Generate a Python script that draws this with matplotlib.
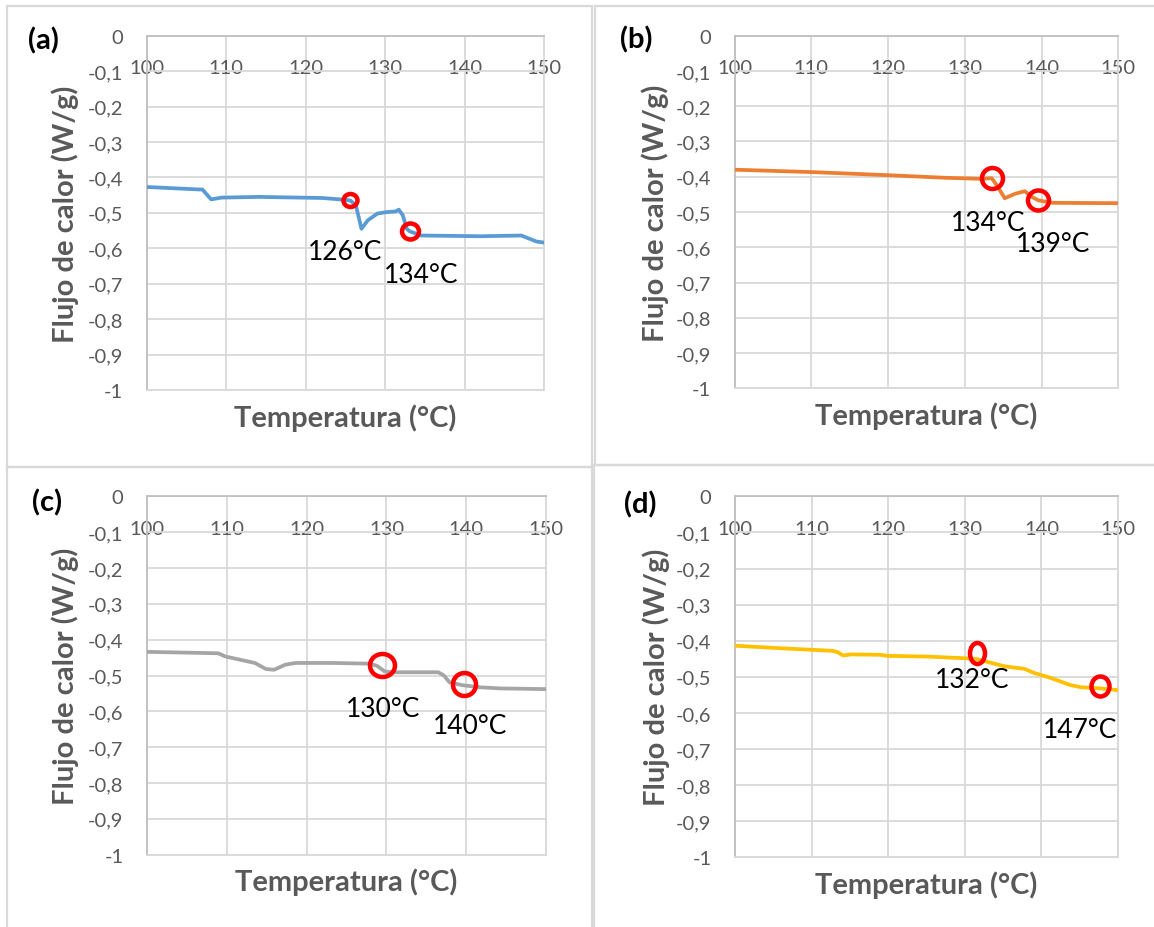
import matplotlib
matplotlib.use('Agg')
import matplotlib.pyplot as plt
from matplotlib.patches import Rectangle
from matplotlib.path import Path
from matplotlib.transforms import Affine2D

plt.rcParams['font.family'] = ['Lato', 'DejaVu Sans']

# ---------------- data ----------------
x_ticks = [100, 110, 120, 130, 140, 150]
y_ticks = [0, -0.1, -0.2, -0.3, -0.4, -0.5, -0.6, -0.7, -0.8, -0.9, -1]
y_tick_labels = ['0', '-0,1', '-0,2', '-0,3', '-0,4', '-0,5', '-0,6', '-0,7', '-0,8', '-0,9', '-1']
x_title = 'Temperatura (°C)'
y_title = 'Flujo de calor (W/g)'
panel_labels = ['(a)', '(b)', '(c)', '(d)']

temp_a = [100, 106.6, 107.0, 108.1, 109.4, 114.1, 122.0, 124.3, 125.6, 126.3, 127.0, 127.8,
          129.0, 130.1, 131.3, 131.7, 132.2, 132.7, 133.05, 134.5, 142.0, 147.1, 149.0, 150]
flux_a = [-0.427, -0.434, -0.434, -0.462, -0.457, -0.455, -0.458, -0.462, -0.465, -0.479, -0.545, -0.521,
          -0.502, -0.498, -0.496, -0.491, -0.507, -0.545, -0.552, -0.564, -0.566, -0.564, -0.581, -0.584]

temp_b = [100, 110.3, 120.4, 127.5, 132.3, 133.5, 134.2, 135.2, 136.6, 137.8, 138.8, 139.6, 141.4, 150]
flux_b = [-0.380, -0.387, -0.396, -0.403, -0.406, -0.404, -0.425, -0.461, -0.448, -0.441, -0.458, -0.467, -0.474, -0.475]

temp_c = [100, 108.9, 109.8, 113.5, 114.9, 115.9, 117.3, 118.6, 123.3, 127.9, 128.8, 129.8, 130.7,
          136.5, 137.2, 137.9, 139.5, 141.8, 144.2, 150]
flux_c = [-0.434, -0.438, -0.447, -0.465, -0.482, -0.484, -0.470, -0.465, -0.465, -0.467, -0.473, -0.489, -0.491,
          -0.491, -0.500, -0.519, -0.527, -0.533, -0.536, -0.538]

temp_d = [100, 106.0, 112.7, 113.4, 114.1, 115.1, 118.9, 119.9, 125.1, 130.4, 131.6, 132.8, 135.2,
          137.8, 139.0, 140.9, 143.8, 145.2, 147.6, 150]
flux_d = [-0.414, -0.421, -0.428, -0.432, -0.441, -0.438, -0.439, -0.442, -0.444, -0.449, -0.451, -0.458, -0.471,
          -0.478, -0.489, -0.501, -0.523, -0.529, -0.532, -0.537]

mark_x_a, mark_y_a = [125.6, 133.05], [-0.465, -0.552]
mark_x_b, mark_y_b = [133.5, 139.6], [-0.404, -0.467]
mark_x_c, mark_y_c = [129.4, 139.7], [-0.470, -0.524]
mark_x_d, mark_y_d = [131.6, 147.6], [-0.435, -0.526]

note_a, note_x_a, note_y_a = ['126°C', '134°C'], [124.9, 134.5], [-0.608, -0.675]
note_b, note_x_b, note_y_b = ['134°C', '139°C'], [133.1, 141.5], [-0.529, -0.590]
note_c, note_x_c, note_y_c = ['130°C', '140°C'], [129.6, 140.5], [-0.592, -0.640]
note_d, note_x_d, note_y_d = ['132°C', '147°C'], [130.9, 145.0], [-0.508, -0.646]

# ---------------- style / layout ----------------
W, H = 1154, 928
DPI = 100
PX = 72.0 / DPI  # points per pixel

panels = [
    dict(t=temp_a, f=flux_a, mx=mark_x_a, my=mark_y_a, nt=note_a, nx=note_x_a, ny=note_y_a,
         color='#5B9BD5', box=(146.7, 36.7, 544.4, 391.0), lab=(43.5, 40.5),
         rings=[(14, 13), (17, 16)], frame=(6.7, 7.3, 591.7, 467.7)),
    dict(t=temp_b, f=flux_b, mx=mark_x_b, my=mark_y_b, nt=note_b, nx=note_x_b, ny=note_y_b,
         color='#ED7D31', box=(734.5, 36.7, 1118.3, 389.3), lab=(635.8, 40.0),
         rings=[(21, 21), (21, 20)], frame=(595.0, 7.3, 1170, 466.0)),
    dict(t=temp_c, f=flux_c, mx=mark_x_c, my=mark_y_c, nt=note_c, nx=note_x_c, ny=note_y_c,
         color='#A5A5A5', box=(147.2, 497.3, 546.0, 855.7), lab=(47.0, 502.5),
         rings=[(25, 23), (23, 23)], frame=(6.7, 467.7, 591.7, 940)),
    dict(t=temp_d, f=flux_d, mx=mark_x_d, my=mark_y_d, nt=note_d, nx=note_x_d, ny=note_y_d,
         color='#FFC000', box=(735.2, 497.3, 1118.0, 858.3), lab=(640.0, 505.0),
         rings=[(15, 21), (18, 20)], frame=(594.0, 466.0, 1170, 940)),
]

fig = plt.figure(figsize=(W / DPI, H / DPI), dpi=DPI)
fig.patch.set_facecolor('white')

def ring_marker(w, h):
    s = max(w, h)
    return Path.unit_circle().transformed(Affine2D().scale(w / s, h / s)), s

for i, p in enumerate(panels):
    # panel frame
    fx0, fy0, fx1, fy1 = p['frame']
    fig.add_artist(Rectangle((fx0 / W, 1 - fy1 / H), (fx1 - fx0) / W, (fy1 - fy0) / H,
                             transform=fig.transFigure, fill=False, edgecolor='#D9D9D9',
                             linewidth=1.6, zorder=0))
    x0, y0, x1, y1 = p['box']
    ax = fig.add_axes([x0 / W, 1 - y1 / H, (x1 - x0) / W, (y1 - y0) / H])
    ax.set_xlim(100, 150)
    ax.set_ylim(-1, 0)
    ax.set_xticks(x_ticks)
    ax.set_yticks(y_ticks, labels=y_tick_labels)
    ax.xaxis.tick_top()
    ax.tick_params(axis='x', length=0, pad=-29, labelsize=14.5, labelcolor='#595959')
    ax.tick_params(axis='y', length=0, pad=17, labelsize=14.5, labelcolor='#595959')
    ax.grid(True, color='#D9D9D9', linewidth=1.3)
    ax.set_axisbelow(True)
    for side in ['right', 'bottom']:
        ax.spines[side].set_color('#D9D9D9')
        ax.spines[side].set_linewidth(1.3)
    for side in ['left', 'top']:
        ax.spines[side].set_color('#BFBFBF')
        ax.spines[side].set_linewidth(1.3)

    ax.plot(p['t'], p['f'], color=p['color'], linewidth=2.7, solid_capstyle='round',
            solid_joinstyle='round', zorder=3)

    for (mx, my), (rw, rh) in zip(zip(p['mx'], p['my']), p['rings']):
        path, s = ring_marker(rw, rh)
        ax.plot([mx], [my], linestyle='none', marker=path, markersize=s * PX,
                markerfacecolor='none', markeredgecolor='#FF0000', markeredgewidth=4.5 * PX, zorder=4)

    for txt, tx, ty in zip(p['nt'], p['nx'], p['ny']):
        ax.text(tx, ty, txt, ha='center', va='center', fontsize=19, color='black', zorder=5)

    ax.xaxis.set_label_position('bottom')
    ax.set_xlabel(x_title, fontsize=21, fontweight='bold', color='#595959')
    ax.xaxis.set_label_coords(0.5, -13 / (y1 - y0))
    ax.set_ylabel(y_title, fontsize=21, fontweight='bold', color='#595959')
    ax.yaxis.set_label_coords((79 - 146.7) / 397.7, 0.5)

    lx, ly = p['lab']
    fig.text(lx / W, 1 - ly / H, panel_labels[i], ha='center', va='center',
             fontsize=21, fontweight='bold', color='black')

fig.savefig('out.png', dpi=DPI, facecolor='white')
